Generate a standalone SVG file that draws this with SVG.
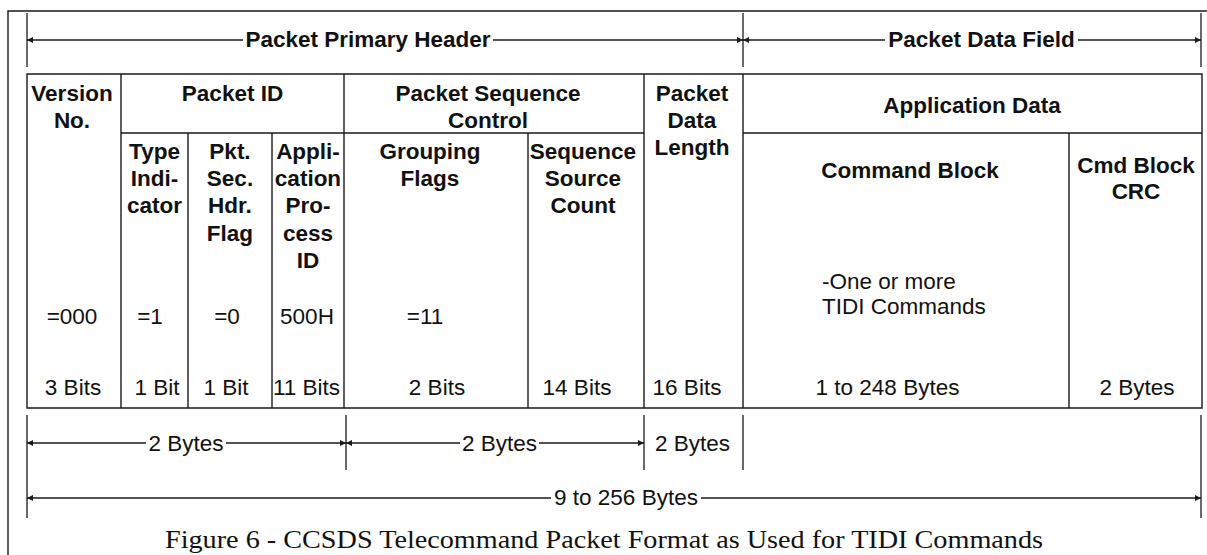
<svg xmlns="http://www.w3.org/2000/svg" width="1207" height="555" viewBox="0 0 1207 555">
<style>
.ln{stroke:#1a1a1a;stroke-width:1.4;fill:none}
.dim{stroke:#1a1a1a;stroke-width:1.3;fill:none}
.b{font-family:"Liberation Sans",Arial,sans-serif;font-weight:bold;font-size:22.5px;text-anchor:middle;fill:#111}
.r{font-family:"Liberation Sans",Arial,sans-serif;font-size:22.5px;text-anchor:middle;fill:#111}
.cap{font-family:"Liberation Serif","Times New Roman",serif;font-size:25px;fill:#111}
</style>
<defs>
<marker id="ah" markerUnits="userSpaceOnUse" markerWidth="7" markerHeight="6" refX="6" refY="3" orient="auto-start-reverse">
<path d="M0,0 L6,3 L0,6 z" fill="#1a1a1a"/>
</marker>
</defs>
<rect width="1207" height="555" fill="#fff"/>
<g id="frame" class="ln">
<path d="M8,555 V11 H1207"/>
</g>
<g id="connectors">
<g class="dim">
<path d="M27,13 V67 M743,13 V67 M1201,13 V67"/>
<path d="M27,415 V518 M346,415 V470 M644,415 V470 M743,415 V470 M1201,415 V518"/>
<line x1="27" y1="40" x2="243" y2="40" marker-start="url(#ah)"/>
<line x1="493" y1="40" x2="743" y2="40" marker-end="url(#ah)"/>
<line x1="743" y1="40" x2="885" y2="40" marker-start="url(#ah)"/>
<line x1="1078" y1="40" x2="1201" y2="40" marker-end="url(#ah)"/>
<line x1="27" y1="443" x2="146" y2="443" marker-start="url(#ah)"/>
<line x1="226" y1="443" x2="346" y2="443" marker-end="url(#ah)"/>
<line x1="346" y1="443" x2="460" y2="443" marker-start="url(#ah)"/>
<line x1="539" y1="443" x2="644" y2="443" marker-end="url(#ah)"/>
<line x1="27" y1="498" x2="551" y2="498" marker-start="url(#ah)"/>
<line x1="701" y1="498" x2="1201" y2="498" marker-end="url(#ah)"/>
</g>
</g>
<g id="dim-labels">
<text class="b" x="368" y="47">Packet Primary Header</text>
<text class="b" x="981.5" y="47">Packet Data Field</text>
<text class="r" x="186" y="451">2 Bytes</text>
<text class="r" x="499.5" y="451">2 Bytes</text>
<text class="r" x="692.5" y="451">2 Bytes</text>
<text class="r" x="626" y="505">9 to 256 Bytes</text>
</g>
<g id="table-grid" class="ln">
<path d="M27,74 H1202 V408 H27 Z"/>
<path d="M121,74 V408 M344,74 V408 M644,74 V408 M743,74 V408"/>
<path d="M121,133 H644 M743,133 H1202"/>
<path d="M188,133 V408 M272,133 V408 M528,133 V408 M1069,133 V408"/>
</g>
<g id="version">
<text class="b" x="72" y="101">Version</text>
<text class="b" x="72" y="128">No.</text>
<text class="r" x="72" y="324">=000</text>
<text class="r" x="73" y="395">3 Bits</text>
</g>
<g id="packet-id">
<text class="b" x="232.5" y="101">Packet ID</text>
</g>
<g id="type-indicator">
<text class="b" x="154.5" y="159">Type</text>
<text class="b" x="154.5" y="186">Indi-</text>
<text class="b" x="154.5" y="213">cator</text>
<text class="r" x="150" y="324">=1</text>
<text class="r" x="157" y="395">1 Bit</text>
</g>
<g id="sec-hdr-flag">
<text class="b" x="230" y="159">Pkt.</text>
<text class="b" x="230" y="186">Sec.</text>
<text class="b" x="230" y="213">Hdr.</text>
<text class="b" x="230" y="241">Flag</text>
<text class="r" x="227" y="324">=0</text>
<text class="r" x="226" y="395">1 Bit</text>
</g>
<g id="apid">
<text class="b" x="308" y="159">Appli-</text>
<text class="b" x="308" y="186">cation</text>
<text class="b" x="308" y="213">Pro-</text>
<text class="b" x="308" y="241">cess</text>
<text class="b" x="308" y="268">ID</text>
<text class="r" x="307" y="324">500H</text>
<text class="r" x="306.5" y="395">11 Bits</text>
</g>
<g id="seq-control">
<text class="b" x="488" y="101">Packet Sequence</text>
<text class="b" x="488" y="128">Control</text>
</g>
<g id="grouping-flags">
<text class="b" x="430" y="159">Grouping</text>
<text class="b" x="430" y="186">Flags</text>
<text class="r" x="425" y="324">=11</text>
<text class="r" x="437" y="395">2 Bits</text>
</g>
<g id="seq-count">
<text class="b" x="583" y="159">Sequence</text>
<text class="b" x="583" y="186">Source</text>
<text class="b" x="583" y="213">Count</text>
<text class="r" x="577" y="395">14 Bits</text>
</g>
<g id="data-length">
<text class="b" x="692" y="101">Packet</text>
<text class="b" x="692" y="128">Data</text>
<text class="b" x="692" y="155">Length</text>
<text class="r" x="687" y="395">16 Bits</text>
</g>
<g id="app-data">
<text class="b" x="972" y="113">Application Data</text>
</g>
<g id="command-block">
<text class="b" x="910" y="178">Command Block</text>
<text class="r" x="822" y="289" style="text-anchor:start">-One or more</text>
<text class="r" x="822" y="314" style="text-anchor:start">TIDI Commands</text>
<text class="r" x="887.5" y="395">1 to 248 Bytes</text>
</g>
<g id="cmd-crc">
<text class="b" x="1136" y="173">Cmd Block</text>
<text class="b" x="1136" y="199">CRC</text>
<text class="r" x="1137" y="395">2 Bytes</text>
</g>
<g id="caption">
<text class="cap" x="165" y="548" textLength="878" lengthAdjust="spacingAndGlyphs">Figure 6 - CCSDS Telecommand Packet Format as Used for TIDI Commands</text>
</g>
</svg>
